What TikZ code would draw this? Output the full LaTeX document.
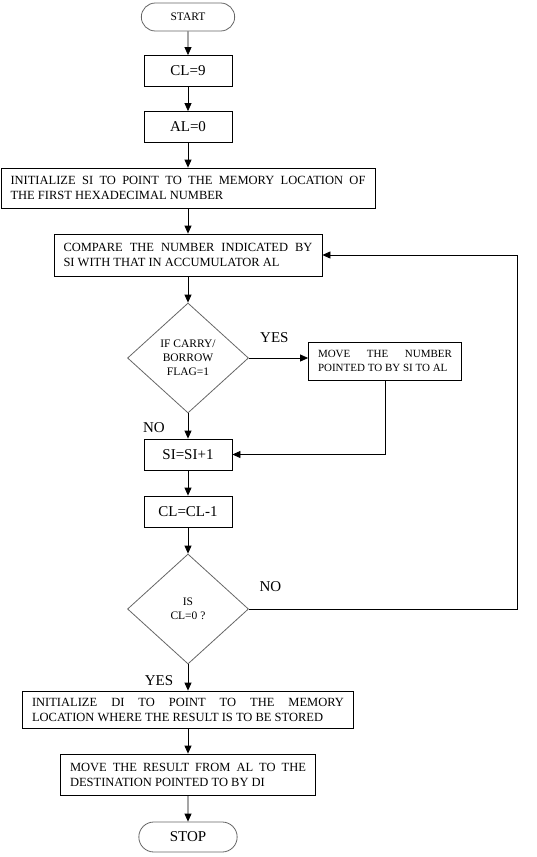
\documentclass[tikz,border=0pt]{standalone}
\usepackage{fontspec}
\setmainfont{Liberation Serif}
\usepackage{tikz}
\usepgflibrary{shapes}
\usetikzlibrary{arrows.meta}

\begin{document}
\begin{tikzpicture}[node distance={60pt}, >={Triangle[length=8pt,width=7pt]}, line width=0.8pt,
	term/.style = {draw=black!60, rounded rectangle, minimum width=100pt, minimum height=28pt, font=\fontsize{11.5}{14}\selectfont},
	box/.style = {draw, rectangle, minimum width=88pt, minimum height=31pt, font=\fontsize{15}{18}\selectfont},
	wide/.style = {draw, rectangle, align=justify, inner xsep=9.5pt, minimum height=40pt, font=\fontsize{12.5}{15}\selectfont},
	cond/.style = {draw=black!60, diamond, minimum width=121pt, minimum height=110pt, align=center, inner sep=1pt, font=\fontsize{11.5}{14}\selectfont},
	lbl/.style = {font=\fontsize{15}{18}\selectfont}]
	\useasboundingbox (0,0) rectangle (537pt,-857pt);
	\node[term] (start) at (188pt,-17pt) {START};
	\node[box] [below of=start, node distance=54pt] (cl9) {CL=9};
	\draw[->] (start) -- (cl9);
	\node[box] [below of=cl9, node distance=56pt] (al0) {AL=0};
	\draw[->] (cl9) -- (al0);
	\node[wide, text width=355pt] [below of=al0, node distance=61pt] (initsi) {INITIALIZE SI TO POINT TO THE MEMORY LOCATION OF\linebreak THE FIRST HEXADECIMAL NUMBER};
	\draw[->] (al0) -- (initsi);
	\node[wide, text width=249pt, minimum height=42pt] [below of=initsi, node distance=67pt] (cmp) {COMPARE THE NUMBER INDICATED BY\linebreak SI WITH THAT IN ACCUMULATOR AL};
	\draw[->] (initsi) -- (cmp);
	\node[cond] [below of=cmp, node distance=103pt] (carry) {IF CARRY/\\BORROW\\FLAG=1};
	\draw[->] (cmp) -- (carry);
	\node[wide, text width=134pt, minimum height=38pt, font=\fontsize{11}{14}\selectfont] [right of=carry, node distance=197pt, yshift=-3pt] (mov) {MOVE THE NUMBER\linebreak POINTED TO BY SI TO AL};
	\draw[->] (carry.east) -- (carry.east -| mov.west) node [lbl, pos=0.43, yshift=20pt] (yes1) {YES};
	\node[box] [below of=carry, node distance=96.5pt] (si) {SI=SI+1};
	\draw[->] (carry) -- (si) node [lbl, pos=0.55, xshift=-34pt] (no1) {NO};
	\draw[->] (mov.south) |- (si.east);
	\node[box] [below of=si, node distance=57pt] (cldec) {CL=CL-1};
	\draw[->] (si) -- (cldec);
	\node[cond] [below of=cldec, node distance=97.5pt] (zero) {IS\\CL=0 ?};
	\draw[->] (cldec) -- (zero);
	\coordinate [right of=zero, node distance=329pt] (back);
	\draw[->] (zero.east) -- node [lbl, pos=0.08, yshift=22pt] (no2) {NO} (back) |- (cmp.east);
	\node[wide, text width=312pt, minimum height=37pt] [below of=zero, node distance=100.5pt] (initdi) {INITIALIZE DI TO POINT TO THE MEMORY\linebreak LOCATION WHERE THE RESULT IS TO BE STORED};
	\draw[->] (zero) -- (initdi) node [lbl, pos=0.6, xshift=-29pt] (yes2) {YES};
	\node[wide, text width=236pt, minimum height=41pt] [below of=initdi, node distance=65pt] (movres) {MOVE THE RESULT FROM AL TO THE\linebreak DESTINATION POINTED TO BY DI};
	\draw[->] (initdi) -- (movres);
	\node[term, minimum width=105pt, minimum height=30pt, font=\fontsize{15}{18}\selectfont] [below of=movres, node distance=62.5pt] (stop) {STOP};
	\draw[->] (movres) -- (stop);
\end{tikzpicture}
\end{document}
